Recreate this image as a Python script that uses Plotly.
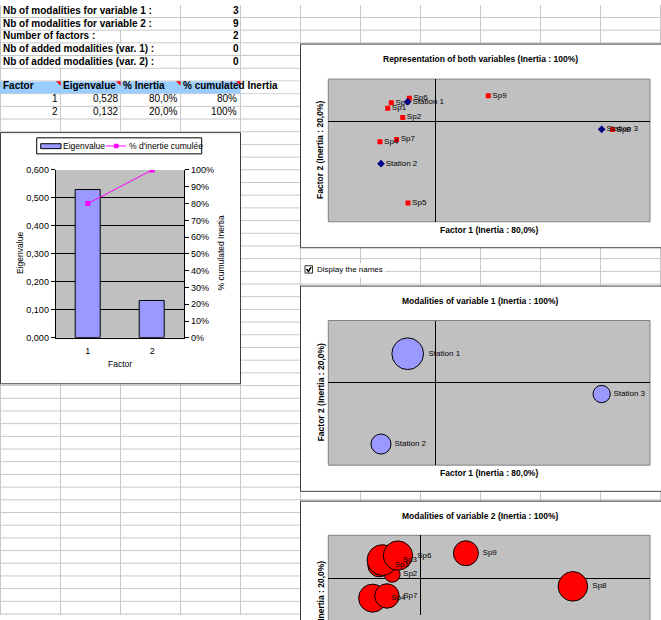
import plotly.graph_objects as go

W, H = 661, 620
FONT = "Liberation Sans, Arial, sans-serif"


def X(p):
    return p / W


def Y(p):
    return 1 - p / H


# ------------------------------------------------------------------ data
info_labels = [
    "Nb of modalities for variable 1 :",
    "Nb of modalities for variable 2 :",
    "Number of factors :",
    "Nb of added modalities (var. 1) :",
    "Nb of added modalities (var. 2) :",
]
info_values = [3, 9, 2, 0, 0]

table_headers = ["Factor", "Eigenvalue", "% Inertia", "% cumulated Inertia"]
factors = [1, 2]
eigenvalues = [0.528, 0.132]
pct_inertia = [80.0, 20.0]
cum_inertia = [80, 100]

stations = ["Station 1", "Station 2", "Station 3"]
station_f1 = [-0.184, -0.362, 1.109]
station_f2 = [0.195, -0.417, -0.078]
station_mass = [0.59, 0.235, 0.175]

species = ["Sp1", "Sp2", "Sp3", "Sp4", "Sp5", "Sp6", "Sp7", "Sp8", "Sp9"]
species_f1 = [-0.317, -0.217, -0.293, -0.369, -0.182, -0.173, -0.258, 1.181, 0.353]
species_f2 = [0.130, 0.039, 0.184, -0.200, -0.806, 0.229, -0.178, -0.081, 0.252]
species_mass = [0.090, 0.042, 0.161, 0.134, 0.068, 0.147, 0.102, 0.149, 0.107]

title_both = "Representation of both variables (Inertia : 100%)"
title_var1 = "Modalities of variable 1 (Inertia : 100%)"
title_var2 = "Modalities of variable 2 (Inertia : 100%)"
axis_f1 = "Factor 1 (Inertia : 80,0%)"
axis_f2 = "Factor 2 (Inertia : 20,0%)"


def dec(v, n):
    return f"{v:.{n}f}".replace(".", ",")


# ------------------------------------------------------------------ shapes
shapes = []
GRID = "#C8C8C8"


def line(x0, y0, x1, y1, color=GRID, width=1):
    shapes.append(dict(type="line", xref="paper", yref="paper", x0=X(x0), y0=Y(y0),
                       x1=X(x1), y1=Y(y1), line=dict(color=color, width=width), layer="below"))


def rect(x0, y0, x1, y1, fill="white", lc=None, lw=1):
    shapes.append(dict(type="rect", xref="paper", yref="paper", x0=X(x0), y0=Y(y0),
                       x1=X(x1), y1=Y(y1), fillcolor=fill,
                       line=dict(color=lc if lc else "rgba(0,0,0,0)", width=lw if lc else 0),
                       layer="below"))


def path(d, fill=None, color="black", width=1):
    shapes.append(dict(type="path", xref="paper", yref="paper", path=d,
                       fillcolor=fill if fill else "rgba(0,0,0,0)",
                       line=dict(color=color, width=width), layer="below"))


def P(x, y):
    return f"{X(x):.5f},{Y(y):.5f}"


# spreadsheet grid
ROW0, ROWH = 12.7, 12.9
rows = [ROW0 + ROWH * j for j in range(48)]
for xg in range(0, 661, 60):
    line(xg + 0.5, 0, xg + 0.5, H)
for yg in rows:
    line(0, yg, W, yg)

# hide gridlines where text overflows
for j, lab in enumerate(info_labels):
    top = 0 if j == 0 else rows[j - 1]
    bot = rows[j]
    cols = [60] if j == 2 else [60, 120]
    for c in cols:
        rect(c - 1.5, top + 0.8, c + 1.5, bot - 0.8)

# header band
hdr_top, hdr_bot = rows[5], rows[6]
rect(0, hdr_top + 0.5, 240.8, hdr_bot - 0.5, fill="#99CCFF")
rect(240.8, hdr_top + 0.5, 299, hdr_bot - 0.5)
for c in [60, 120, 180, 240]:
    path(f"M{P(c - 3.5, hdr_top + 0.5)} L{P(c + 0.3, hdr_top + 0.5)} L{P(c + 0.3, hdr_top + 4.3)} Z",
         fill="#FF0000", color="#FF0000", width=0.5)

# chart boxes
rect(0.5, 129.7, 240.5, 385, fill="white", lc="#404040", lw=1)
rect(300.5, 39.7, 700, 246.7, fill="white", lc="#404040", lw=1)
rect(300.5, 285.7, 700, 494.3, fill="white", lc="#404040", lw=1)
rect(300.5, 504.3, 700, 760, fill="white", lc="#404040", lw=1)

# scatter plot areas
for (x0, y0, x1, y1) in [(328.3, 75.3, 650, 220.3), (328.3, 320.7, 650, 467.7), (328.3, 539, 650, 700)]:
    rect(x0, y0, x1, y1, fill="#C0C0C0", lc="#808080", lw=1)

# bar chart plot area
rect(55.7, 167.7, 184.3, 338.3, fill="#C0C0C0")

# bar chart legend
rect(36.7, 135, 201.7, 151.3, fill="white", lc="black", lw=1)
rect(40.7, 141, 61, 146, fill="#9999FF", lc="black", lw=1)
line(106, 143.3, 126, 143.3, color="#FF00FF", width=1)
rect(114.2, 141.3, 118.2, 145.3, fill="#FF00FF", lc="#FF00FF", lw=0.5)

# checkbox control
rect(302, 262.5, 385, 277)
rect(305, 265, 312.5, 272.5, fill="white", lc="#333333", lw=1)
path(f"M{P(306.6, 268.4)} L{P(308.4, 270.8)} L{P(311.2, 266.4)}", color="black", width=1.6)

# ------------------------------------------------------------------ annotations
anns = []


def ann(x, y, text, size=10, bold=False, xanchor="left", angle=0, color="black"):
    anns.append(dict(xref="paper", yref="paper", x=X(x), y=Y(y), text=f"<b>{text}</b>" if bold else text,
                     showarrow=False, xanchor=xanchor, yanchor="middle", textangle=angle,
                     font=dict(family=FONT, size=size, color=color), borderpad=0))


info_y = [5.5, 18.5, 31.3, 44.2, 57.0]
for lab, v, yy in zip(info_labels, info_values, info_y):
    ann(2, yy, lab, bold=True)
    ann(239.5, yy, str(v), bold=True, xanchor="right")

hx = [2, 62, 122, 182]
for h, xx in zip(table_headers, hx):
    ann(xx, 82, h, bold=True)

rx = [58.5, 118.5, 178.5, 238.5]
for i, f in enumerate(factors):
    yy = 95 + 12.9 * i
    vals = [str(f), dec(eigenvalues[i], 3), dec(pct_inertia[i], 1) + "%", f"{cum_inertia[i]}%"]
    for v, xx in zip(vals, rx):
        ann(xx, yy, v, xanchor="right")

# bar chart texts
ann(62, 143.5, "Eigenvalue", size=8.5)
ann(128, 143.5, "% d'inertie cumulée", size=8.5)
ann(20, 252, "Eigenvalue", size=8.5, xanchor="center", angle=-90)
ann(220.5, 252, "% cumulated Inertia", size=8.5, xanchor="center", angle=-90)
ann(119.5, 365, "Factor", size=8.5, xanchor="center")

# scatter chart texts
ann(480, 54.7, title_both, size=8.5, bold=True, xanchor="center")
ann(489, 228.7, axis_f1, size=8.5, bold=True, xanchor="center")
ann(320.5, 147.8, axis_f2, size=8.5, bold=True, xanchor="center", angle=-90)

ann(480, 301, title_var1, size=8.5, bold=True, xanchor="center")
ann(489, 476, axis_f1, size=8.5, bold=True, xanchor="center")
ann(320.5, 394.2, axis_f2, size=8.5, bold=True, xanchor="center", angle=-90)

ann(480, 519, title_var2, size=8.5, bold=True, xanchor="center")
ann(320.5, 615.5, axis_f2, size=8.5, bold=True, xanchor="center", angle=-90)

ann(316, 269.3, "Display the names", size=8)

# ------------------------------------------------------------------ traces
fig = go.Figure()

fig.add_trace(go.Bar(x=factors, y=eigenvalues, width=0.39, xaxis="x", yaxis="y",
                     marker=dict(color="#9999FF", line=dict(color="black", width=1)),
                     name="Eigenvalue", showlegend=False))
fig.add_trace(go.Scatter(x=factors, y=cum_inertia, xaxis="x", yaxis="y2", mode="lines+markers",
                         line=dict(color="#FF00FF", width=1),
                         marker=dict(symbol="square", size=5, color="#FF00FF"),
                         name="% d'inertie cumulée", showlegend=False))

LBL = dict(family=FONT, size=8, color="black")

# chart 1: both variables
fig.add_trace(go.Scatter(x=species_f1, y=species_f2, text=species, xaxis="x2", yaxis="y3",
                         mode="markers+text", textposition="middle right", textfont=LBL,
                         marker=dict(symbol="square", size=5, color="#FF0000"), showlegend=False))
fig.add_trace(go.Scatter(x=station_f1, y=station_f2, text=stations, xaxis="x2", yaxis="y3",
                         mode="markers+text", textposition="middle right", textfont=LBL,
                         marker=dict(symbol="diamond", size=6, color="#000080"), showlegend=False))

# chart 2: stations bubbles
st_ref = 2 * max(station_mass) / 31.7 ** 2
fig.add_trace(go.Scatter(x=station_f1, y=station_f2, text=stations, xaxis="x3", yaxis="y4",
                         mode="markers+text", textposition="middle right", textfont=LBL,
                         marker=dict(size=station_mass, sizemode="area", sizeref=st_ref,
                                     color="#9999FF", opacity=1, line=dict(color="black", width=1)),
                         showlegend=False))

# chart 3: species bubbles
sp_ref = 2 * max(species_mass) / 30.7 ** 2
fig.add_trace(go.Scatter(x=species_f1, y=species_f2, text=species, xaxis="x4", yaxis="y5",
                         mode="markers+text", textposition="middle right", textfont=LBL,
                         marker=dict(size=species_mass, sizemode="area", sizeref=sp_ref,
                                     color="#FF0000", opacity=1, line=dict(color="black", width=1)),
                         showlegend=False))

# ------------------------------------------------------------------ axes
tickfont = dict(family=FONT, size=9, color="black")


def scatter_axes(xd, yd, xr, yr):
    xa = dict(domain=[X(xd[0]), X(xd[1])], range=xr, showgrid=False, zeroline=True,
              zerolinecolor="black", zerolinewidth=1, showticklabels=False, ticks="", showline=False)
    ya = dict(domain=[Y(yd[1]), Y(yd[0])], range=yr, showgrid=False, zeroline=True,
              zerolinecolor="black", zerolinewidth=1, showticklabels=False, ticks="", showline=False)
    return xa, ya


x2, y3 = scatter_axes((328.3, 650), (75.3, 220.3), [-0.7133, 1.4313], [-0.9903, 0.4175])
x3, y4 = scatter_axes((328.3, 650), (320.7, 467.7), [-0.7133, 1.4313], [-0.56, 0.42])
x4, y5 = scatter_axes((328.3, 650), (539, 620), [-0.7121, 1.7779], [-0.3693, 0.4327])
x2.update(anchor="y3")
y3.update(anchor="x2")
x3.update(anchor="y4")
y4.update(anchor="x3")
x4.update(anchor="y5")
y5.update(anchor="x4")

fig.update_layout(
    width=W, height=H,
    margin=dict(l=0, r=0, t=0, b=0),
    paper_bgcolor="white", plot_bgcolor="rgba(0,0,0,0)",
    separators=", ",
    font=dict(family=FONT, color="black"),
    showlegend=False,
    bargap=0,
    xaxis=dict(domain=[X(55.7), X(184.3)], range=[0.5, 2.5], anchor="y",
               tickvals=factors, ticktext=[str(f) for f in factors], ticks="",
               showline=True, linecolor="black", linewidth=1, showgrid=False, zeroline=False,
               tickfont=tickfont, ticklabelstandoff=4),
    yaxis=dict(domain=[Y(338.3), Y(167.7)], range=[0, 0.6], dtick=0.1, tickformat=".3f",
               anchor="x", showline=True, linecolor="black", linewidth=1, ticks="outside",
               ticklen=4, tickcolor="black", showgrid=True, gridcolor="black", gridwidth=1,
               zeroline=False, tickfont=tickfont),
    yaxis2=dict(overlaying="y", side="right", anchor="x", range=[0, 100], dtick=10,
                ticksuffix="%", showline=True, linecolor="black", linewidth=1, ticks="outside",
                ticklen=4, tickcolor="black", showgrid=False, zeroline=False, tickfont=tickfont),
    xaxis2=x2, yaxis3=y3, xaxis3=x3, yaxis4=y4, xaxis4=x4, yaxis5=y5,
    shapes=shapes,
    annotations=anns,
)

fig.write_html(
    "out.html",
    config={"displayModeBar": False},
    post_script="document.body.style.margin='0';document.body.style.overflow='hidden';",
)
